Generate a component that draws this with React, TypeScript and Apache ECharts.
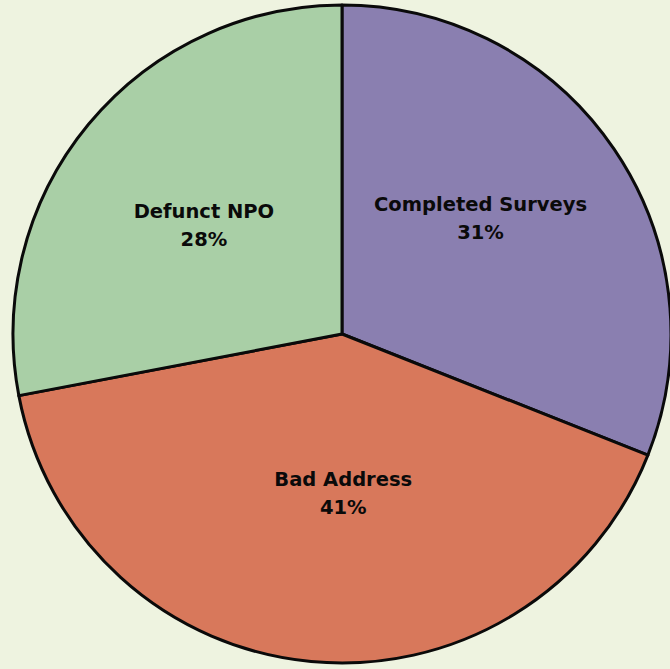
import React, { useEffect, useRef } from "react";
import * as echarts from "echarts";

const categories = ["Completed Surveys", "Bad Address", "Defunct NPO"];
const values = [31, 41, 28];
const colors = ["#8a7fb0", "#d8785b", "#a9cfa6"];
const labelOffsets: [number, number][] = [
  [0, -21],
  [17, -7],
  [-9, -2],
];

export default function App() {
  const ref = useRef<HTMLDivElement>(null);
  useEffect(() => {
    if (!ref.current) return;
    const chart = echarts.init(ref.current, null, { renderer: "svg" });
    chart.setOption({
      animation: false,
      backgroundColor: "#eef3e0",
      series: [
        {
          type: "pie",
          center: [342, 334],
          radius: [0, 329],
          startAngle: 90,
          clockwise: true,
          avoidLabelOverlap: false,
          itemStyle: { borderColor: "#0a0a0a", borderWidth: 3 },
          emphasis: { disabled: true },
          label: {
            show: true,
            position: "inside",
            formatter: "{b}\n{d}%",
            color: "#0a0a0a",
            fontFamily: "DejaVu Sans",
            fontWeight: "bold",
            fontSize: 19.5,
            lineHeight: 28,
            align: "center",
          },
          labelLine: { show: false },
          data: categories.map((name, i) => ({
            name,
            value: values[i],
            itemStyle: { color: colors[i] },
            label: { offset: labelOffsets[i] },
          })),
        },
      ],
    });
    return () => chart.dispose();
  }, []);
  return (
    <div
      ref={ref}
      style={{ position: "fixed", left: 0, top: 0, width: 670, height: 669 }}
    />
  );
}
